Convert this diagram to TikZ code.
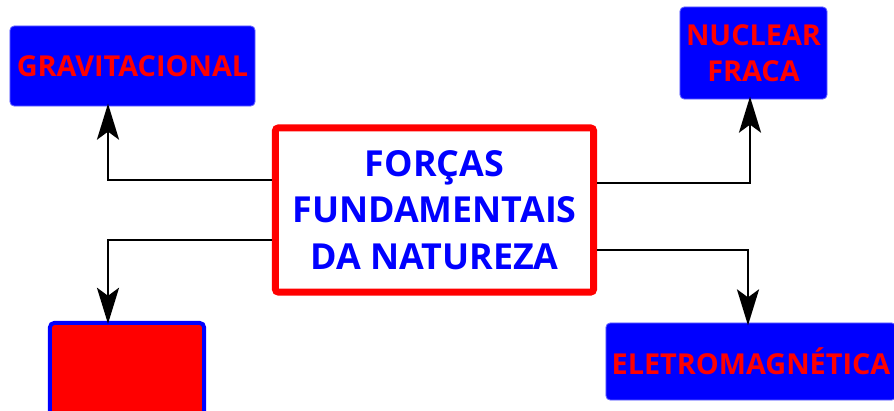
\documentclass[tikz,border=0pt]{standalone}
\usepackage{fontspec}
\setmainfont{Open Sans}
\usetikzlibrary{arrows.meta,calc}
\definecolor{puroazul}{RGB}{0,0,255}
\definecolor{purovermelho}{RGB}{255,0,0}
\tikzset{
  forca/.style={rectangle, rounded corners=3pt, fill=puroazul, draw=puroazul!60,
    line width=0.6pt, text=purovermelho, align=center,
    font=\fontsize{20.5}{25.5}\selectfont\bfseries, inner sep=0pt},
  principal/.style={rectangle, rounded corners=2pt, draw=purovermelho, fill=white,
    line width=0.175cm, text=puroazul, align=center,
    font=\fontsize{25.5}{33}\selectfont\bfseries, inner sep=0pt,
    minimum width=7.95cm, minimum height=4.1cm},
  ligacao/.style={->, line width=0.07cm, black, shorten >=-2pt}
}
\begin{document}
\begin{tikzpicture}[x=0.025cm, y=-0.025cm, >={Stealth[length=0.9cm,width=0.55cm,inset=0.2cm]}]
\useasboundingbox (0,0) rectangle (894,410);

\node[principal] (forcas) at (434.5,210) {FORÇAS\\FUNDAMENTAIS\\DA NATUREZA};

\node[forca, minimum width=6.125cm, minimum height=2cm] (grav) at (132.5,66) {GRAVITACIONAL};
\node[forca, minimum width=3.675cm, minimum height=2.3cm] (nuclear) at (753.5,53) {NUCLEAR\\FRACA};
\node[forca, minimum width=7.25cm, minimum height=1.925cm] (eletro) at (751,361.5) {ELETROMAGNÉTICA};
\node[forca, fill=purovermelho, draw=puroazul, line width=0.1cm,
  minimum width=3.85cm, minimum height=2.5cm] (vazia) at (127,373) {};

\draw[ligacao] ($(forcas.west)+(0,-30)$) -| ($(grav.south)+(-24.5,0)$);
\draw[ligacao] ($(forcas.west)+(0,30)$) -| ($(vazia.north)+(-19,0)$);
\draw[ligacao] ($(forcas.east)+(0,-27)$) -| ($(nuclear.south)+(-3.5,0)$);
\draw[ligacao] ($(forcas.east)+(0,40)$) -| ($(eletro.north)+(-3,0)$);
\end{tikzpicture}
\end{document}
